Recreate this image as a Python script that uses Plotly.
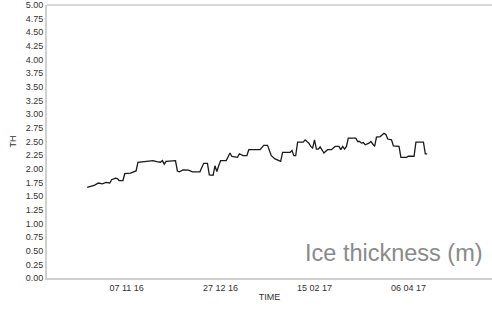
import plotly.graph_objects as go

dates = [
    "2016-10-17", "2016-10-19", "2016-10-21", "2016-10-23", "2016-10-25", "2016-10-27",
    "2016-10-29", "2016-10-30", "2016-11-01", "2016-11-02", "2016-11-03", "2016-11-05",
    "2016-11-06", "2016-11-09", "2016-11-11", "2016-11-12", "2016-11-13", "2016-11-19",
    "2016-11-21", "2016-11-23", "2016-11-25", "2016-11-26", "2016-11-27", "2016-11-28",
    "2016-12-01", "2016-12-03", "2016-12-04", "2016-12-05", "2016-12-07", "2016-12-10",
    "2016-12-12", "2016-12-16", "2016-12-18", "2016-12-20", "2016-12-21", "2016-12-23",
    "2016-12-24", "2016-12-25", "2016-12-26", "2016-12-27", "2016-12-30", "2017-01-01",
    "2017-01-02", "2017-01-05", "2017-01-06", "2017-01-08", "2017-01-10", "2017-01-11",
    "2017-01-17", "2017-01-19", "2017-01-21", "2017-01-23", "2017-01-25", "2017-01-27",
    "2017-01-28", "2017-01-29", "2017-02-02", "2017-02-03", "2017-02-04", "2017-02-05",
    "2017-02-06", "2017-02-09", "2017-02-10", "2017-02-12", "2017-02-13", "2017-02-14",
    "2017-02-15", "2017-02-16", "2017-02-17", "2017-02-18", "2017-02-20", "2017-02-21",
    "2017-02-22", "2017-02-24", "2017-02-26", "2017-02-28", "2017-03-01", "2017-03-02",
    "2017-03-03", "2017-03-04", "2017-03-05", "2017-03-09", "2017-03-10", "2017-03-11",
    "2017-03-12", "2017-03-13", "2017-03-14", "2017-03-16", "2017-03-17", "2017-03-19",
    "2017-03-20", "2017-03-22", "2017-03-24", "2017-03-25", "2017-03-26", "2017-03-28",
    "2017-03-29", "2017-04-01", "2017-04-02", "2017-04-05", "2017-04-06", "2017-04-09",
    "2017-04-10", "2017-04-14", "2017-04-15", "2017-04-16",
]
thickness = [
    1.66, 1.675, 1.70, 1.74, 1.725, 1.75,
    1.74, 1.80, 1.83, 1.82, 1.785, 1.785,
    1.91, 1.92, 1.94, 1.96, 2.12, 2.135,
    2.15, 2.13, 2.12, 2.15, 2.085, 2.135,
    2.14, 2.15, 1.96, 1.945, 1.98, 1.975,
    1.945, 1.945, 2.10, 2.10, 1.89, 1.88,
    2.055, 1.95, 2.055, 2.15, 2.15, 2.29,
    2.225, 2.21, 2.275, 2.24, 2.24, 2.35,
    2.35, 2.43, 2.43, 2.24, 2.18, 2.145,
    2.135, 2.30, 2.30, 2.335, 2.24, 2.24,
    2.49, 2.49, 2.53, 2.47, 2.41, 2.38,
    2.53, 2.36, 2.36, 2.40, 2.29, 2.32,
    2.35, 2.35, 2.41, 2.41, 2.35, 2.41,
    2.36, 2.41, 2.56, 2.56, 2.50, 2.50,
    2.47, 2.48, 2.44, 2.47, 2.50, 2.41,
    2.58, 2.59, 2.65, 2.63, 2.545, 2.53,
    2.42, 2.41, 2.21, 2.21, 2.23, 2.23,
    2.49, 2.49, 2.275, 2.275,
]

x_tickvals = ["2016-11-07", "2016-12-27", "2017-02-15", "2017-04-06"]
x_ticktext = ["07 11 16", "27 12 16", "15 02 17", "06 04 17"]
y_tickvals = [i * 0.25 for i in range(21)]
y_ticktext = [f"{v:.2f}" for v in y_tickvals]

fig = go.Figure()
fig.add_trace(go.Scatter(
    x=dates, y=thickness, mode="lines",
    line=dict(color="#1a1a1a", width=1.3),
    showlegend=False, hoverinfo="skip",
))

font = "Liberation Sans, Arial, sans-serif"
fig.update_layout(
    width=492, height=311,
    margin=dict(l=47, r=0, t=5, b=33, autoexpand=False),
    paper_bgcolor="white", plot_bgcolor="white",
    font=dict(family=font, size=9, color="#333"),
    xaxis=dict(
        range=["2016-09-25 14:00", "2017-05-20 12:00"],
        tickvals=x_tickvals, ticktext=x_ticktext,
        showgrid=False, zeroline=False, automargin=False,
        showline=True, linecolor="#d0d0d0", linewidth=2, mirror=False,
        ticks="", tickfont=dict(size=9, color="#333"),
        title=dict(text="TIME", font=dict(size=9, color="#333"), standoff=2),
    ),
    yaxis=dict(
        range=[0, 5],
        tickvals=y_tickvals, ticktext=y_ticktext,
        showgrid=False, zeroline=False, automargin=False,
        showline=True, linecolor="#d0d0d0", linewidth=2,
        ticks="", tickfont=dict(size=9, color="#333"),
        title=dict(text="TH", font=dict(size=9, color="#333"), standoff=8),
    ),
    shapes=[dict(type="line", xref="paper", yref="paper", x0=0, x1=1, y0=1, y1=1,
                 line=dict(color="#d8d8d8", width=2))],
    annotations=[dict(
        text="Ice thickness (m)", xref="paper", yref="paper",
        x=0.985, y=0.09, xanchor="right", yanchor="middle",
        showarrow=False, font=dict(family=font, size=23.5, color="#8a8a8a"),
    )],
)

fig.write_html("out.html", config={"displayModeBar": False},
               post_script="document.body.style.margin='0';")
